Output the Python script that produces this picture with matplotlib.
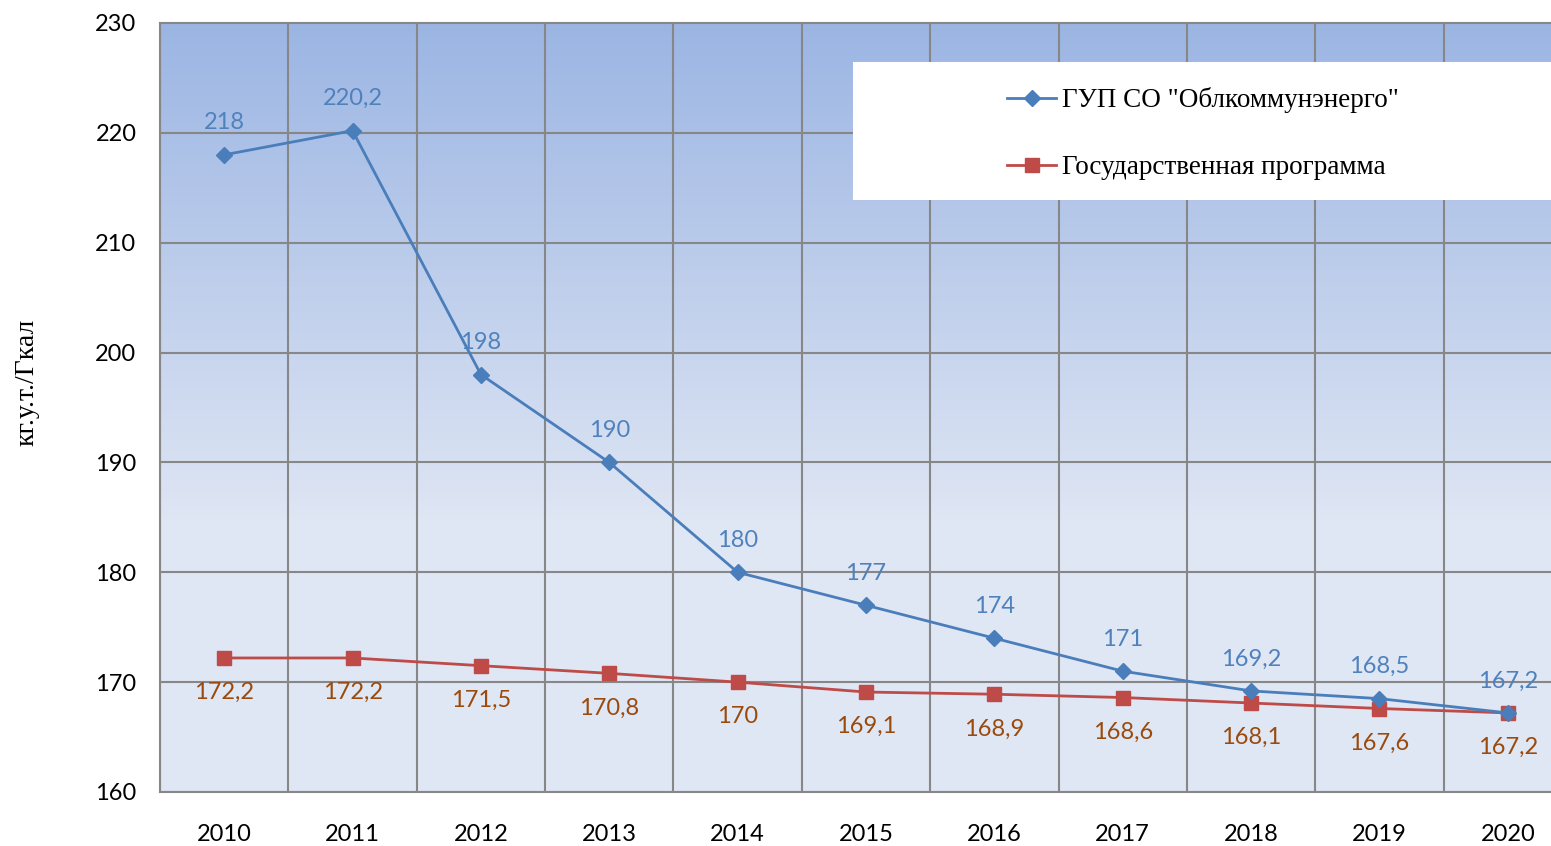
import numpy as np
import matplotlib.pyplot as plt
from matplotlib.colors import LinearSegmentedColormap
from matplotlib.lines import Line2D
from matplotlib.patches import Rectangle

years = ['2010', '2011', '2012', '2013', '2014', '2015', '2016', '2017', '2018', '2019', '2020']
gup = [218, 220.2, 198, 190, 180, 177, 174, 171, 169.2, 168.5, 167.2]
prog = [172.2, 172.2, 171.5, 170.8, 170, 169.1, 168.9, 168.6, 168.1, 167.6, 167.2]
gup_name = 'ГУП СО "Облкоммунэнерго"'
prog_name = 'Государственная программа'

blue = '#4a7ebb'
red = '#be4b48'
grid_c = '#878787'

fig = plt.figure(figsize=(15.51, 8.46), dpi=100)
# the right edge of the plot is cut off in the original
ax = fig.add_axes([160/1551, 54/846, 1412/1551, 769/846])

x = np.arange(len(years))

# gradient background
cmap = LinearSegmentedColormap.from_list('bg', [(0, '#dfe6f4'), (0.35, '#dfe6f4'), (1, '#9bb5e3')])
grad = np.linspace(0, 1, 256).reshape(-1, 1)
ax.imshow(grad, cmap=cmap, origin='lower', aspect='auto', extent=(0, 1, 0, 1),
          transform=ax.transAxes, zorder=0)

ax.plot(x, gup, color=blue, lw=2, marker='D', ms=8.5, mec=blue, mfc=blue, zorder=4)
ax.plot(x, prog, color=red, lw=2, marker='s', ms=10, mec=red, mfc=red, zorder=3)

for i in range(len(x)):
    ax.annotate(str(gup[i]).replace('.', ','), (x[i], gup[i]), xytext=(0, 23), textcoords='offset points',
                ha='center', va='center', color='#4f81bd', fontsize=17, family='Lato', zorder=5)
    ax.annotate(str(prog[i]).replace('.', ','), (x[i], prog[i]), xytext=(0, -25), textcoords='offset points',
                ha='center', va='center', color='#9a4a0c', fontsize=17, family='Lato', zorder=5)

ax.set_xlim(-0.5, 10.5)
ax.set_ylim(160, 230)
ax.set_yticks(np.arange(160, 231, 10))
ax.set_xticks(x)
ax.set_xticklabels(years)
ax.set_xticks(np.arange(-0.5, 11, 1), minor=True)
ax.grid(which='minor', axis='x', color=grid_c, lw=1.5, zorder=1)
ax.grid(which='major', axis='y', color=grid_c, lw=1.5, zorder=1)
ax.tick_params(which='both', length=0)
ax.tick_params(axis='x', pad=23, labelsize=17)
ax.tick_params(axis='y', pad=17, labelsize=17)
for lab in ax.get_xticklabels() + ax.get_yticklabels():
    lab.set_family('Lato')
for s in ax.spines.values():
    s.set_color(grid_c)
    s.set_linewidth(1.5)

fig.text(27/1551, 1 - 382/846, 'кг.у.т./Гкал', family='Liberation Serif', fontsize=20,
         rotation=90, ha='center', va='center')

# legend box
fig.patches.append(Rectangle((853/1551, 1 - 200/846), 700/1551, 138/846, transform=fig.transFigure,
                             facecolor='white', edgecolor='none', zorder=6))
handles = [Line2D([], [], color=blue, lw=2, marker='D', ms=8.5),
           Line2D([], [], color=red, lw=2, marker='s', ms=10)]
leg = fig.legend(handles, [gup_name, prog_name], loc='upper left',
                 bbox_to_anchor=(983/1551, 1 - 63/846), frameon=False,
                 prop={'family': 'Liberation Serif', 'size': 19.5}, handlelength=1.8,
                 handletextpad=0.2, labelspacing=1.55)
leg.set_zorder(7)

fig.savefig('out.png', dpi=100)
